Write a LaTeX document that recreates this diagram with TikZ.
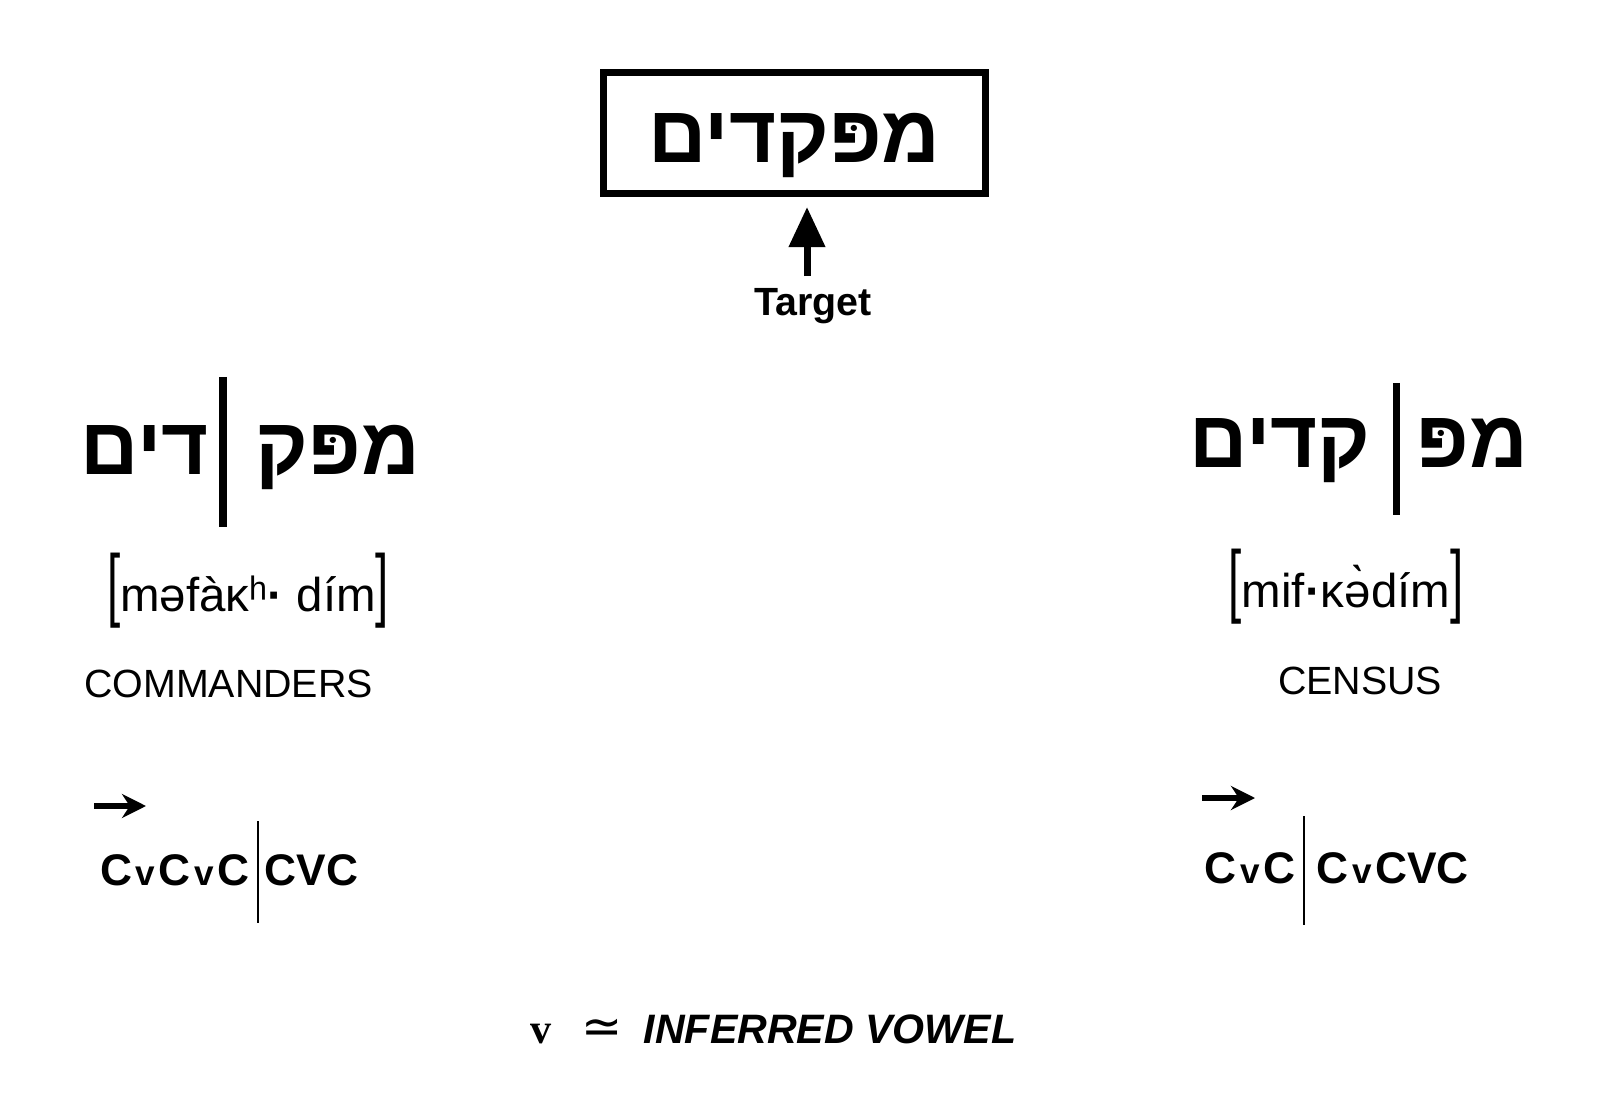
\documentclass[tikz,border=0pt]{standalone}
\usepackage{fontspec}
\usepackage{graphicx}
\usepackage{tikz}
\usetikzlibrary{arrows.meta}
\setmainfont{Liberation Sans}
\newfontfamily\hebfont[Script=Hebrew]{Liberation Sans}
\newfontfamily\symfont{DejaVu Sans}
\newfontfamily\vfont{Liberation Serif}
\TeXXeTstate=1

\newcommand{\heb}[1]{{\hebfont\bfseries\beginR #1\endR}}
\newcommand{\tallbr}[1]{\scalebox{1}[1.7]{#1}}
\newcommand{\sv}{\kern1pt{\fontsize{10}{12}\selectfont v}\kern1pt}
\newcommand{\syldot}{{\bfseries·}}

\begin{document}
\begin{tikzpicture}[
            > = {Triangle[length=4mm,width=3.5mm]}, % arrow head style
            hebrew/.style = {font=\fontsize{23}{26}\selectfont, inner sep=0pt, anchor=base},
            phon/.style = {font=\fontsize{13.5}{15}\selectfont, inner sep=0pt, anchor=base},
            gloss/.style = {font=\fontsize{11.2}{13}\selectfont, inner sep=0pt, anchor=base},
            cv/.style = {font=\fontsize{12.6}{14}\selectfont\bfseries, inner sep=0pt, anchor=base},
            divider/.style = {line width=2pt},
            thin divider/.style = {line width=0.7pt},
            small arrow/.style = {-{Stealth[length=2.4mm,width=2.4mm]}, line width=1.5pt}
        ]
\useasboundingbox (0,0) rectangle (16,11.14);

% target word
\node[draw=black, line width=2pt, minimum width=3.82cm, minimum height=1.21cm,
      inner sep=0pt, text height=0.6cm, text depth=0pt,
      font=\fontsize{23}{26}\selectfont] (word) at (7.945,9.81) {\heb{מפּקדים}};
\node[font=\fontsize{11.2}{13}\selectfont\bfseries, inner sep=0pt, anchor=base] (target) at (8.13,7.98) {Target};

% left reading
\node[hebrew] (L_rest) at (1.445,6.39) {\heb{דים}};
\node[hebrew] (L_head) at (3.38,6.39) {\heb{מפּק}};
\draw[divider] (2.23,7.37) -- (2.23,5.87);
\node[phon] (L_ipa) at (2.48,5.02) {\tallbr{[}məfàĸʰ\syldot{} dím\tallbr{]}};
\node[gloss] (L_gloss) at (2.285,4.17) {COMMANDERS};
\coordinate (L_a) at (0.94,3.08);
\coordinate (L_b) at (1.46,3.08);
\node[cv, anchor=base east] (L_cv1) at (2.50,2.29) {C\sv C\sv C};
\node[cv, anchor=base west] (L_cv2) at (2.64,2.29) {CVC};
\draw[thin divider] (2.58,2.93) -- (2.58,1.91);

% right reading
\node[hebrew] (R_rest) at (12.80,6.46) {\heb{קדים}};
\node[hebrew] (R_head) at (14.72,6.46) {\heb{מפּ}};
\draw[divider] (13.96,7.31) -- (13.96,5.99);
\node[phon] (R_ipa) at (13.46,5.06) {\tallbr{[}mif\syldot ĸə̀dím\tallbr{]}};
\node[gloss] (R_gloss) at (13.60,4.20) {CENSUS};
\coordinate (R_a) at (12.02,3.16);
\coordinate (R_b) at (12.55,3.16);
\node[cv, anchor=base east] (R_cv1) at (12.96,2.31) {C\sv C};
\node[cv, anchor=base west] (R_cv2) at (13.16,2.31) {C\sv CVC};
\draw[thin divider] (13.04,2.98) -- (13.04,1.89);

% key
\node[font=\fontsize{12}{14}\selectfont\vfont\bfseries, inner sep=0pt, anchor=base] (key_v) at (5.41,0.71) {v};
\node[font=\fontsize{14}{16}\selectfont\symfont, inner sep=0pt, anchor=base] (key_eq) at (6.02,0.71) {≃};
\node[font=\fontsize{11.7}{13}\selectfont\bfseries\itshape, inner sep=0pt, anchor=base] (key_txt) at (8.30,0.71) {INFERRED VOWEL};

\path [->, line width=2pt, shorten < = 1.2mm, shorten > = 1mm] ([xshift=-0.6mm]target.north) edge ([xshift=-0.6mm]target.north |- word.south);
\path [small arrow] (L_a) edge (L_b);
\path [small arrow] (R_a) edge (R_b);
\end{tikzpicture}
\end{document}
